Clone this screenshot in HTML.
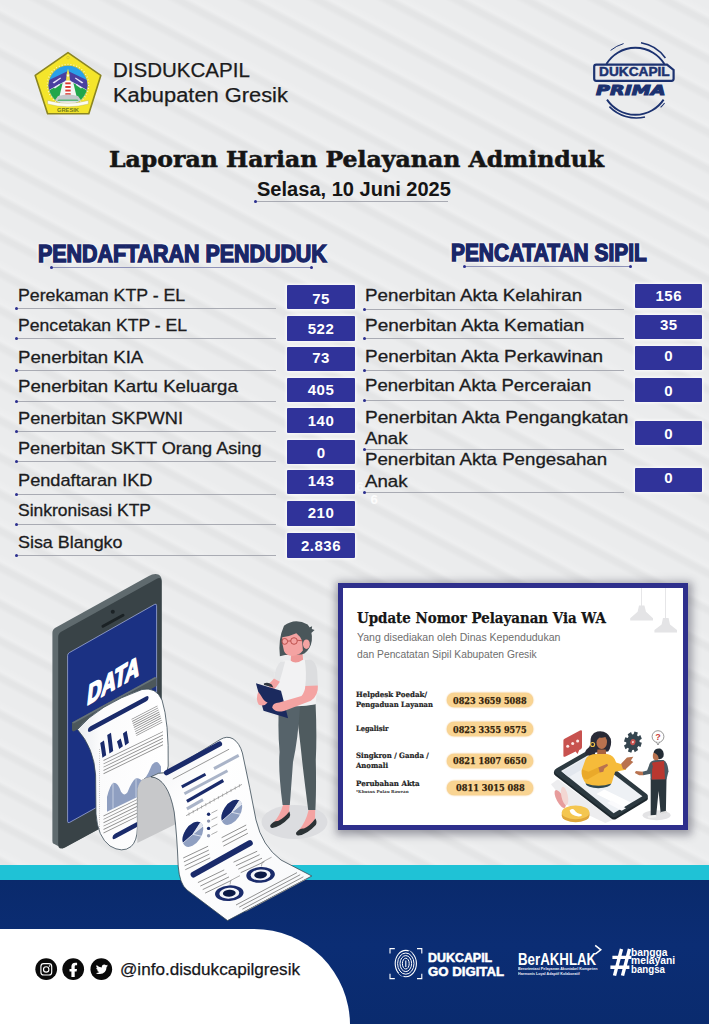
<!DOCTYPE html>
<html lang="id">
<head>
<meta charset="utf-8">
<title>Laporan Harian Pelayanan Adminduk</title>
<style>
html,body{margin:0;padding:0;}
body{width:709px;height:1024px;overflow:hidden;position:relative;background:#ebeced;font-family:"Liberation Sans",sans-serif;}
#bg{position:absolute;left:0;top:0;width:709px;height:1024px;
 background:repeating-linear-gradient(27.8deg,rgba(0,0,0,0) 0px,rgba(0,0,0,0) 8px,rgba(0,0,0,.032) 12.5px,rgba(0,0,0,.032) 15.5px,rgba(255,255,255,.16) 20px,rgba(255,255,255,0) 27px,rgba(0,0,0,0) 32.5px);}
.t{position:absolute;white-space:nowrap;line-height:1;transform-origin:0 0;}
.ul{position:absolute;height:1px;background:#a9abb3;}
.dot{position:absolute;width:3px;height:3px;border-radius:50%;background:#2b2f8f;}
.vb{position:absolute;width:67.5px;height:24.4px;background:#30339a;box-shadow:0 0 3px 1px rgba(255,255,255,.85);border-radius:1px;}
svg{position:absolute;left:0;top:0;}
</style>
</head>
<body>
<div id="bg"></div>
<!-- title underline -->
<div class="ul" style="left:255px;top:201.2px;width:193px"></div><div class="dot" style="left:253.5px;top:200.2px"></div>
<!-- section underlines -->
<div class="ul" style="left:51px;top:266.6px;width:260.5px;background:#8e92b8"></div><div class="dot" style="left:49.5px;top:265.5px"></div><div class="dot" style="left:310px;top:265.5px"></div>
<div class="ul" style="left:464px;top:266.3px;width:166.5px;background:#8e92b8"></div><div class="dot" style="left:462.5px;top:265.2px"></div><div class="dot" style="left:629px;top:265.2px"></div>
<!-- left rows -->
<div class="ul" style="left:17px;top:308.1px;width:259px"></div><div class="dot" style="left:15px;top:307.1px"></div>
<div class="ul" style="left:17px;top:338.2px;width:259px"></div><div class="dot" style="left:15px;top:337.2px"></div>
<div class="ul" style="left:17px;top:370.2px;width:259px"></div><div class="dot" style="left:15px;top:369.2px"></div>
<div class="ul" style="left:17px;top:400.5px;width:259px"></div><div class="dot" style="left:15px;top:399.5px"></div>
<div class="ul" style="left:17px;top:431.1px;width:259px"></div><div class="dot" style="left:15px;top:430.1px"></div>
<div class="ul" style="left:17px;top:461.1px;width:259px"></div><div class="dot" style="left:15px;top:460.1px"></div>
<div class="ul" style="left:17px;top:493.5px;width:259px"></div><div class="dot" style="left:15px;top:492.5px"></div>
<div class="ul" style="left:17px;top:523.5px;width:259px"></div><div class="dot" style="left:15px;top:522.5px"></div>
<div class="ul" style="left:17px;top:555.2px;width:259px"></div><div class="dot" style="left:15px;top:554.2px"></div>
<div class="vb" style="left:287px;top:285px"></div>
<div class="vb" style="left:287px;top:316.3px"></div>
<div class="vb" style="left:287px;top:347px"></div>
<div class="vb" style="left:287px;top:377.7px"></div>
<div class="vb" style="left:287px;top:408.4px"></div>
<div class="vb" style="left:287px;top:439.6px"></div>
<div class="vb" style="left:287px;top:470.1px"></div>
<div class="vb" style="left:287px;top:501.3px"></div>
<div class="vb" style="left:287px;top:533.4px"></div>
<!-- right rows -->
<div class="ul" style="left:365px;top:308.8px;width:259px"></div><div class="dot" style="left:362.7px;top:307.8px"></div>
<div class="ul" style="left:365px;top:338.0px;width:259px"></div><div class="dot" style="left:362.7px;top:337.0px"></div>
<div class="ul" style="left:365px;top:369.9px;width:259px"></div><div class="dot" style="left:362.7px;top:368.9px"></div>
<div class="ul" style="left:365px;top:400.4px;width:259px"></div><div class="dot" style="left:362.7px;top:399.4px"></div>
<div class="ul" style="left:365px;top:448.8px;width:259px"></div><div class="dot" style="left:362.7px;top:447.8px"></div>
<div class="ul" style="left:365px;top:491.5px;width:259px"></div><div class="dot" style="left:362.7px;top:490.5px"></div>
<div class="vb" style="left:634.7px;top:283.5px"></div>
<div class="vb" style="left:634.7px;top:314.9px"></div>
<div class="vb" style="left:634.7px;top:346px"></div>
<div class="vb" style="left:634.7px;top:378px"></div>
<div class="vb" style="left:634.7px;top:421.1px"></div>
<div class="vb" style="left:634.7px;top:467.7px"></div>
<!-- footer -->
<div style="position:absolute;left:0;top:865px;width:709px;height:15px;background:#1fc2d6"></div>
<div style="position:absolute;left:0;top:879.6px;width:709px;height:145px;background:linear-gradient(#0a2a6c,#0b2d74 45%,#0a2b6e)"></div>
<div style="position:absolute;left:0;top:928.8px;width:350px;height:96px;background:#fff;border-top-right-radius:96px 96px"></div>
<!-- card -->
<div style="position:absolute;left:338.3px;top:582.9px;width:339.6px;height:237.6px;border:5px solid #2e2f8c;background:#fff;box-shadow:1px 2px 8px 3px rgba(45,45,65,.42)"></div>
<div style="position:absolute;left:447.4px;top:693.1px;width:85.2px;height:14.1px;border-radius:8px;background:#f9d492;box-shadow:0 0 1.5px .5px #f3c781"></div>
<div style="position:absolute;left:447.4px;top:722.3px;width:85.2px;height:14.1px;border-radius:8px;background:#f9d492;box-shadow:0 0 1.5px .5px #f3c781"></div>
<div style="position:absolute;left:447.4px;top:754px;width:85.2px;height:14.0px;border-radius:8px;background:#f9d492;box-shadow:0 0 1.5px .5px #f3c781"></div>
<div style="position:absolute;left:447.4px;top:781.3px;width:85.2px;height:13.7px;border-radius:8px;background:#f9d492;box-shadow:0 0 1.5px .5px #f3c781"></div>

<svg width="709" height="1024" viewBox="0 0 709 1024">
<defs><clipPath id="emc"><circle cx="68" cy="85.2" r="19.4"/></clipPath></defs>
<!-- Gresik emblem -->
<g id="emblem">
<path d="M68 52.6 L100.8 75.4 L88.8 113.8 L47.6 113.8 L35.2 75.4 Z" fill="#f4e52b" stroke="#8b8522" stroke-width="1.6" stroke-linejoin="round"/>
<circle cx="68" cy="85" r="20.6" fill="#d9cf3a"/>
<circle cx="68" cy="85" r="20.6" fill="none" stroke="#fffbd0" stroke-width="1.3" stroke-dasharray=".9 2.1"/>
<g clip-path="url(#emc)">
<rect x="46" y="63" width="44" height="44" fill="#2aa0e8"/>
<path d="M68 71 L46 81.4 L46 92 L68 80 L90 92 L90 81.4 Z" fill="#4a40a0"/>
<path d="M68 79.4 L46 91.6 L46 106 L90 106 L90 91.6 Z" fill="#f2f4f3"/>
<path d="M62.6 83 L48 91 L50 100 L58.6 100 Z" fill="#21a64a"/>
<path d="M73.4 83 L88 91 L86 100 L77.4 100 Z" fill="#21a64a"/>
<path d="M52.6 82.4 L60.4 77.4 L61 78.6 L54 83.6 Z M83.4 82.4 L75.6 77.4 L75 78.6 L82 83.6 Z M53.6 87.6 L59.6 83.8 L60 85 L55 88.6 Z M82.4 87.6 L76.4 83.8 L76 85 L81 88.6 Z" fill="#e9e6fa"/>
<rect x="65.3" y="80.6" width="5.4" height="15" fill="#fff"/>
<rect x="65.3" y="82.4" width="5.4" height="1.9" fill="#d9372e"/><rect x="65.3" y="86" width="5.4" height="1.9" fill="#d9372e"/><rect x="65.3" y="89.6" width="5.4" height="1.9" fill="#d9372e"/><rect x="65.3" y="93.2" width="5.4" height="1.6" fill="#d9372e"/>
<path d="M66 80.6 L66.8 73 L68 68.4 L69.2 73 L70 80.6 Z" fill="#efe24a"/>
<path d="M66.6 74.6 L69.4 74.6 L69 76.4 L67 76.4 Z" fill="#fffbd8"/>
<path d="M54 101.5 L58 96 Q68 93 78 96 L82 101.5 Z" fill="#c3c8cb"/>
<path d="M58.5 99.4 L77.5 99.4 L78.6 101 L57.4 101 Z" fill="#5db77a"/>
</g>
<path d="M47.6 100.4 Q68 106 88.4 100.4 L88.4 104 Q68 109.6 47.6 104 Z" fill="#fbfbf2" stroke="#b7b060" stroke-width=".4"/>
<circle cx="68" cy="57.6" r="1.3" fill="none" stroke="#c7bd35" stroke-width=".6"/>
</g>
<!-- Dukcapil Prima -->
<g id="prima" fill="none" stroke="#1c3270">
<path d="M606.4 64 A34 34 0 0 1 664.4 64" stroke-width="1.9"/>
<path d="M607 99.6 A34 34 0 0 0 663.6 99.6" stroke-width="1.9"/>
<path d="M610.6 50.4 A37.6 37.6 0 0 1 623.6 43.6" stroke-width="1"/>
<path d="M641 42.8 A37.8 37.8 0 0 1 665.4 58" stroke-width="1.5"/>
<path d="M609.4 106.6 A37.4 37.4 0 0 0 645 117" stroke-width="1.6"/>
<path d="M660.6 107.4 A37.4 37.4 0 0 0 664.6 103" stroke-width="1.1"/>
<path d="M594.2 66.6 Q594.2 64.6 596.2 64.6 L667 64.6 L673.6 70 L673.6 78.8 Q673.6 80.8 671.6 80.8 L596.2 80.8 Q594.2 80.8 594.2 78.8 Z" stroke-width="2.2" fill="#e9eaec"/>
</g>
</svg>

<svg width="709" height="1024" viewBox="0 0 709 1024">
<defs>
<linearGradient id="pg1" x1="0" y1="0" x2="1" y2="0"><stop offset="0" stop-color="#e9ebef"/><stop offset=".25" stop-color="#fbfbfc"/><stop offset="1" stop-color="#ffffff"/></linearGradient>
<linearGradient id="pg2" x1="0" y1="0" x2="1" y2="1"><stop offset="0" stop-color="#f1f2f5"/><stop offset=".3" stop-color="#ffffff"/><stop offset="1" stop-color="#f7f8fa"/></linearGradient>
</defs>
<!-- ===== phone ===== -->
<g id="phone">
<path d="M52.4 633 Q52.4 629.5 55.4 627.8 L148.4 576.2 Q154.6 572.8 158.8 574.8 Q161.6 576.4 161.6 580.4 L161.6 795 L62.6 848.6 L53.4 843.6 Q52.4 843 52.4 841 Z" fill="#5f6a6e"/>
<path d="M58.2 637 Q58.2 633.5 61.2 631.8 L156.4 579 Q161.6 576.4 161.6 581.5 L161.6 795 L65 847.4 Q58.2 850.8 58.2 844 Z" fill="#394347"/>
<path d="M67.6 655.6 Q67.6 653.6 69.4 652.6 L154.6 604.4 Q156.6 603.4 156.6 605.6 L156.6 774 L69.6 822.4 Q67.6 823.4 67.6 821.4 Z" fill="#1b3183" stroke="#aeb9e6" stroke-width=".7"/>
<circle cx="112.8" cy="611.8" r="2" fill="#1b2225"/>
<path d="M103 626.3 L123 615.3" stroke="#1b2225" stroke-width="3" stroke-linecap="round"/>
<text transform="matrix(0.68,-0.398,-0.11,1,86.6,705.4)" font-family="Liberation Sans, sans-serif" font-weight="700" font-size="29" fill="#fff" stroke="#fff" stroke-width="2" stroke-linejoin="round">DATA</text>
<!-- slot -->
<path d="M72 722.5 L155 677 L156.6 678 L156.6 686 L73.6 731.6 L72 730.6 Z" fill="#4c575b"/>
<path d="M72 722.5 L155 677 L156.6 678 L73.6 723.6 Z" fill="#66727a"/>
</g>
<!-- ===== paper ===== -->
<g id="paper">
<!-- segment 1 -->
<path d="M77.5 729.5 Q98 705 142 689.5 Q156 686.5 162 700 Q169 722 168.2 766 L166.6 773 Q158 772 151 776.5 Q138.5 778 137.4 792 L137.4 828 Q137.2 841 131 846.6 Q122.4 853.4 110 846 Q97.6 837 96 814 L95.6 775 Q94 748 77.5 729.5 Z" fill="url(#pg1)" stroke="#3a4a55" stroke-width=".8"/>
<!--P1-->
<defs><clipPath id="c1"><path d="M77.5 729.5 Q98 705 142 689.5 Q156 686.5 162 700 Q169 722 168.2 766 L166.6 773 Q158 772 151 776.5 Q138.5 778 137.4 792 L137.4 828 Q137.2 841 131 846.6 Q122.4 853.4 110 846 Q97.6 837 96 814 L95.6 775 Q94 748 77.5 729.5 Z"/></clipPath></defs>
<g clip-path="url(#c1)"><g transform="matrix(1,-0.53,0,1,77,731)">
<path d="M13.5 5 L69 4.6" stroke="#1a2b6b" stroke-width="5.2" stroke-linecap="round"/>
<path d="M54.5 17.3 L80.5 17.5" stroke="#8c8c8c" stroke-width=".9"/>
<path d="M55.1 19.7 L81.1 19.9" stroke="#8c8c8c" stroke-width=".9"/>
<path d="M55.7 22.0 L81.7 22.2" stroke="#8c8c8c" stroke-width=".9"/>
<path d="M56.3 24.4 L82.3 24.6" stroke="#8c8c8c" stroke-width=".9"/>
<path d="M56.9 26.7 L82.9 26.9" stroke="#8c8c8c" stroke-width=".9"/>
<path d="M57.5 29.1 L83.5 29.2" stroke="#8c8c8c" stroke-width=".9"/>
<path d="M58.1 31.4 L84.1 31.6" stroke="#8c8c8c" stroke-width=".9"/>
<path d="M58.7 33.8 L84.7 34.0" stroke="#8c8c8c" stroke-width=".9"/>
<path d="M59.3 36.1 L85.3 36.3" stroke="#8c8c8c" stroke-width=".9"/>
<path d="M27.3 40 Q26.3 32.0 25.1 24.1" stroke="#1a2b6b" stroke-width="3.8" fill="none"/>
<path d="M34.3 39.4 Q33.3 29.6 32.099999999999994 19.9" stroke="#1a2b6b" stroke-width="3.8" fill="none"/>
<path d="M44 40 Q43 35.6 41.8 31.2" stroke="#1a2b6b" stroke-width="3.8" fill="none"/>
<path d="M50 39.6 Q49 33.0 47.8 26.5" stroke="#1a2b6b" stroke-width="3.8" fill="none"/>
<path d="M26.5 43.6 L86 46.2" stroke="#8c8c8c" stroke-width=".9"/>
<path d="M26.5 46.9 L86 49.5" stroke="#8c8c8c" stroke-width=".9"/>
<path d="M26.5 50.2 L86 52.8" stroke="#8c8c8c" stroke-width=".9"/>
<path d="M26.5 53.5 L86 56.1" stroke="#8c8c8c" stroke-width=".9"/>
<path d="M26.5 56.8 L86 59.4" stroke="#8c8c8c" stroke-width=".9"/>
<path d="M30 96.6 L30 82 Q33 71 36.5 71 Q41 73 44 84 Q47.5 91 50.5 88 Q55 79 59 78.6 Q63 80 66 86 Q72 80 75 73.5 Q79 71 82 76 L84 80 L84 99 Z" fill="#8f9fc1"/>
<path d="M36 71.2 L36 96.8 M59 78.6 L59 97.6" stroke="#dfe4ef" stroke-width=".6"/>
<path d="M26.5 99.0 L62 100.5" stroke="#8c8c8c" stroke-width=".9"/>
<path d="M26.5 102.4 L62 103.9" stroke="#8c8c8c" stroke-width=".9"/>
<path d="M26.5 105.8 L62 107.3" stroke="#8c8c8c" stroke-width=".9"/>
<path d="M26.5 109.2 L62 110.7" stroke="#8c8c8c" stroke-width=".9"/>
<path d="M26.5 112.6 L62 114.1" stroke="#8c8c8c" stroke-width=".9"/>
<path d="M26.5 116.0 L62 117.5" stroke="#8c8c8c" stroke-width=".9"/>
<path d="M38 125.4 L59 125.2" stroke="#1a2b6b" stroke-width="5" stroke-linecap="round"/>
<path d="M22.5 30 L22.5 118" stroke="#7b7b7b" stroke-width=".6" stroke-dasharray=".6 1.6"/>
</g></g>
<!--/P1-->
<!-- back (gray inner) -->
<path d="M137.3 843 L137.3 792 Q138 777.5 151 777 Q168 778 174.2 812 L176 824 Z" fill="#c7c8ca"/>
<!-- segment 2 -->
<path d="M151 776.8 Q158 772 166.6 772.6 L220 739.6 Q227 735.4 233 738.8 Q239.6 743 242.4 753 Q250 788 256 820 Q262 846 281 860 L311.8 876 L227.5 920.6 L187 890 Q179.5 884 178.2 866 Q177 835 174.2 812 Q168 778.5 151 776.8 Z" fill="url(#pg2)" stroke="#3a4a55" stroke-width=".8"/>
<!--P2-->
<path d="M166.5 772.8 L219.5 744.0" stroke="#1a2b6b" stroke-width="5.2" stroke-linecap="round"/>
<path d="M172.8 779.1 L229.1 749.2" stroke="#8c8c8c" stroke-width="0.9" stroke-linecap="butt"/>
<path d="M184.4 793.7 L227.5 770.8" stroke="#aab4c8" stroke-width="3" stroke-linecap="butt"/>
<path d="M181.8 786.9 L205.5 774.2" stroke="#1a2b6b" stroke-width="3" stroke-linecap="butt"/>
<path d="M186.9 801.3 L223.3 780.5" stroke="#1a2b6b" stroke-width="3.2" stroke-linecap="butt"/>
<path d="M186.9 808.9 L203.0 799.6" stroke="#aab4c8" stroke-width="3" stroke-linecap="butt"/>
<path d="M214.0 768.6 L238.7 755.4" stroke="#aab4c8" stroke-width="3" stroke-linecap="butt"/>
<path d="M186.1 815.7 L241.9 784.4" stroke="#808080" stroke-width="0.7" stroke-linecap="butt"/>
<path d="M189.0 812.5 L189.0 815.7" stroke="#808080" stroke-width="0.5" stroke-linecap="butt"/>
<path d="M193.2 810.1 L193.2 813.3" stroke="#808080" stroke-width="0.5" stroke-linecap="butt"/>
<path d="M197.4 807.8 L197.4 811.0" stroke="#808080" stroke-width="0.5" stroke-linecap="butt"/>
<path d="M201.6 805.4 L201.6 808.6" stroke="#808080" stroke-width="0.5" stroke-linecap="butt"/>
<path d="M205.8 803.1 L205.8 806.3" stroke="#808080" stroke-width="0.5" stroke-linecap="butt"/>
<path d="M210.0 800.7 L210.0 803.9" stroke="#808080" stroke-width="0.5" stroke-linecap="butt"/>
<path d="M214.2 798.3 L214.2 801.5" stroke="#808080" stroke-width="0.5" stroke-linecap="butt"/>
<path d="M218.4 796.0 L218.4 799.2" stroke="#808080" stroke-width="0.5" stroke-linecap="butt"/>
<path d="M222.6 793.6 L222.6 796.8" stroke="#808080" stroke-width="0.5" stroke-linecap="butt"/>
<path d="M226.8 791.3 L226.8 794.5" stroke="#808080" stroke-width="0.5" stroke-linecap="butt"/>
<path d="M231.0 788.9 L231.0 792.1" stroke="#808080" stroke-width="0.5" stroke-linecap="butt"/>
<path d="M235.2 786.5 L235.2 789.7" stroke="#808080" stroke-width="0.5" stroke-linecap="butt"/>
<path d="M239.4 784.2 L239.4 787.4" stroke="#808080" stroke-width="0.5" stroke-linecap="butt"/>
<g transform="translate(192.9 834.3) rotate(33)"><ellipse rx="8.4" ry="14" fill="#8f9fc1"/><path d="M0 0 L0 -14 A8.4 14 0 0 0 -8.4 0 A8.4 14 0 0 0 -3.6 12.6 Z" fill="#1a2b6b"/><path d="M0 0 L4 -12.3 A8.4 14 0 0 0 0 -14 Z" fill="#dfe4ee"/><path d="M0 0 L0 -14 M0 0 L4 -12.3 M0 0 L8.2 -3 M0 0 L-3.6 12.6" stroke="#eef1f7" stroke-width=".7" fill="none"/></g>
<g transform="translate(231.8 812.3) rotate(33)"><ellipse rx="8.4" ry="14" fill="#8f9fc1"/><path d="M0 0 L0 -14 A8.4 14 0 0 0 -8.4 0 A8.4 14 0 0 0 -3.6 12.6 Z" fill="#1a2b6b"/><path d="M0 0 L4 -12.3 A8.4 14 0 0 0 0 -14 Z" fill="#dfe4ee"/><path d="M0 0 L0 -14 M0 0 L4 -12.3 M0 0 L8.2 -3 M0 0 L-3.6 12.6" stroke="#eef1f7" stroke-width=".7" fill="none"/></g>
<circle cx="208.6" cy="814.3" r="1.7" fill="#1a2b6b"/>
<path d="M211.4 813.1 L217.4 810.1" stroke="#8c8c8c" stroke-width="0.7" stroke-linecap="butt"/>
<circle cx="208.6" cy="821.1" r="1.7" fill="#8f98b3"/>
<path d="M211.4 819.9 L217.4 816.9" stroke="#8c8c8c" stroke-width="0.7" stroke-linecap="butt"/>
<circle cx="208.6" cy="828.4" r="1.7" fill="#1a2b6b"/>
<path d="M211.4 827.2 L217.4 824.2" stroke="#8c8c8c" stroke-width="0.7" stroke-linecap="butt"/>
<circle cx="208.6" cy="835.7" r="1.7" fill="#8f98b3"/>
<path d="M211.4 834.5 L217.4 831.5" stroke="#8c8c8c" stroke-width="0.7" stroke-linecap="butt"/>
<path d="M221.6 837.7 L246.2 825.0" stroke="#8c8c8c" stroke-width="0.95" stroke-linecap="butt"/>
<path d="M222.4 841.9 L247.0 829.1" stroke="#8c8c8c" stroke-width="0.95" stroke-linecap="butt"/>
<path d="M223.3 846.1 L247.9 833.2" stroke="#8c8c8c" stroke-width="0.95" stroke-linecap="butt"/>
<path d="M183.2 858.0 L208.1 846.2" stroke="#8c8c8c" stroke-width="0.95" stroke-linecap="butt"/>
<path d="M183.9 861.9 L208.8 850.1" stroke="#8c8c8c" stroke-width="0.95" stroke-linecap="butt"/>
<path d="M184.6 865.8 L209.5 854.0" stroke="#8c8c8c" stroke-width="0.95" stroke-linecap="butt"/>
<path d="M185.3 869.7 L210.2 857.9" stroke="#8c8c8c" stroke-width="0.95" stroke-linecap="butt"/>
<path d="M193.6 874.5 L249.8 843.2" stroke="#1a2b6b" stroke-width="6" stroke-linecap="round"/>
<path d="M233.5 862.2 L257.2 851.2" stroke="#8c8c8c" stroke-width="0.95" stroke-linecap="butt"/>
<path d="M235.9 865.7 L259.6 854.7" stroke="#8c8c8c" stroke-width="0.95" stroke-linecap="butt"/>
<path d="M238.3 869.2 L262.0 858.2" stroke="#8c8c8c" stroke-width="0.95" stroke-linecap="butt"/>
<path d="M240.7 872.7 L264.4 861.7" stroke="#8c8c8c" stroke-width="0.95" stroke-linecap="butt"/>
<g transform="translate(260.6 874.9) rotate(-4)"><ellipse rx="14.3" ry="7.8" fill="#1a2b6b"/><ellipse rx="10" ry="5.4" fill="#f4f6fa"/><ellipse rx="6.4" ry="3.5" fill="#0b1a45"/></g>
<g transform="translate(229.3 893.2) rotate(-4)"><ellipse rx="14.3" ry="7.8" fill="#1a2b6b"/><ellipse rx="10" ry="5.4" fill="#f4f6fa"/><ellipse rx="6.4" ry="3.5" fill="#0b1a45"/></g>
<path d="M261.4 866.5 L262.2 862.2 L271.6 857.2 M230 884.6 L230.8 880.4 L240 875.6" stroke="#8c8c8c" stroke-width=".7" fill="none"/>
<path d="M197.9 882.6 L224.2 869.9" stroke="#8c8c8c" stroke-width="0.95" stroke-linecap="butt"/>
<path d="M200.3 886.1 L226.6 873.4" stroke="#8c8c8c" stroke-width="0.95" stroke-linecap="butt"/>
<path d="M202.7 889.6 L229.0 876.9" stroke="#8c8c8c" stroke-width="0.95" stroke-linecap="butt"/>
<path d="M205.1 893.1 L231.4 880.4" stroke="#8c8c8c" stroke-width="0.95" stroke-linecap="butt"/>
<path d="M236.0 905.0 L297.0 872.6" stroke="#8c8c8c" stroke-width="0.95" stroke-linecap="butt"/>
<path d="M239.2 907.1 L300.2 874.7" stroke="#8c8c8c" stroke-width="0.95" stroke-linecap="butt"/>
<path d="M242.4 909.2 L303.4 876.8" stroke="#8c8c8c" stroke-width="0.95" stroke-linecap="butt"/>
<path d="M245.6 911.3 L306.6 878.9" stroke="#8c8c8c" stroke-width="0.95" stroke-linecap="butt"/>
<!--/P2-->
</g>
</svg>

<svg width="709" height="1024" viewBox="0 0 709 1024">
<g id="woman">
<ellipse cx="294.5" cy="822" rx="33" ry="17" fill="#dcdde0"/>
<!-- back leg (right, viewer) -->
<path d="M296 706 L315.6 704 Q317 735 315.8 760 Q316.4 790 315.4 810 L308.2 810 Q303 770 301 750 Z" fill="#4f5b5f"/>
<!-- front leg -->
<path d="M279 706 L300 706 Q298 740 293 762 Q291 790 289.8 805 L282.6 805 Q278 770 279.6 752 Q277.6 730 279 706 Z" fill="#56636a"/>
<!-- feet -->
<path d="M283 805 L289.6 805 L289 813 Q282 822 276 824 L273 823 Q280 816 283 805 Z" fill="#f4a3a2"/>
<path d="M308.6 810 L315.2 810 L315 819 Q308 829 301 832 L298.6 830.6 Q306 822 308.6 810 Z" fill="#f4a3a2"/>
<path d="M270.4 825 Q274 820.5 278 821 Q284 818 289.4 811.4 Q291 815 289.4 817.6 Q281 826.6 272.4 828 Q269.6 827.6 270.4 825 Z" fill="#2b3235"/>
<path d="M296.2 832.4 Q300 828 304 828.6 Q310 826 315.4 818.6 Q317.4 822 315.8 825 Q307 834.6 298.2 835.6 Q295.4 835 296.2 832.4 Z" fill="#2b3235"/>
<!-- upper body -->
<path d="M309.1 627.6 L312.1 626.2 L311.8 629.0 L314.6 630.1 L312.1 632.2 L310.3 633.4 Z" fill="#4a565a"/>
<path d="M291.2 653.9 L302.5 653.3 L303.3 662.1 Q296.8 666.2 290.4 664.4 Z" fill="#ee9897"/>
<path d="M280.7 661.5 Q285.1 659.8 290.4 660.6 Q295.7 665.0 302.9 659.8 L310.3 659.2 Q315.6 661.5 316.7 670.9 L317.3 686.1 L315.6 704.3 Q296.8 708.4 279.0 704.3 Q278.1 692.0 279.3 681.4 L274.0 678.5 Q275.2 666.2 280.7 661.5 Z" fill="#f2f2f3"/>
<path d="M304.8 659.8 L310.3 659.2 Q316.2 661.5 317.2 670.9 L317.9 685.5 Q310.9 688.2 305.3 686.1 Q306.8 673.2 304.8 659.8 Z" fill="#dcdddf"/>
<path d="M280.7 661.5 Q275.2 666.2 274.0 678.5 L279.5 681.7 Q282.8 670.9 285.1 661.5 Z" fill="#e2e3e5"/>
<path d="M274.0 678.5 L279.9 681.7 Q276.9 687.3 272.2 690.8 L267.6 684.9 Q271.7 681.4 274.0 678.5 Z" fill="#f4a3a2"/>
<path d="M255.9 683.2 L281.0 690.8 L288.1 718.3 L263.5 710.7 Z" fill="#1b2a5e"/>
<path d="M263.8 683.5 Q267.6 681.4 271.7 684.4 L273.4 687.5 L264.1 684.9 Z" fill="#2f3640"/>
<path d="M258.2 692.0 Q255.3 699.0 258.8 704.8 Q264.1 707.2 267.6 702.5 Q264.1 701.3 261.7 696.7 Q260.0 693.7 258.2 692.0 Z" fill="#f4a3a2"/>
<path d="M305.3 686.1 L317.9 685.5 Q318.5 695.5 310.9 700.7 L284.0 710.9 Q275.2 713.0 272.2 707.8 Q272.2 703.1 279.3 702.5 L301.5 696.1 Q305.0 692.0 305.3 686.1 Z" fill="#f4a3a2"/>
<path d="M279.9 656.3 Q277.9 639.3 284.0 625.8 Q295.1 617.3 307.6 624.6 Q312.6 629.9 311.8 640.7 Q310.7 648.6 304.4 653.6 L301.5 654.5 L285.1 655.1 Z" fill="#4a565a"/>
<path d="M282.2 637.2 Q289.8 636.3 296.3 633.2 Q300.4 636.3 302.1 640.7 L302.9 650.4 Q299.8 655.1 292.2 655.9 Q285.7 655.4 284.0 651.0 Q281.9 644.0 282.2 637.2 Z" fill="#f4a3a2"/>
<ellipse cx="306.4" cy="644.2" rx="3.4" ry="4.8" fill="#f4a3a2"/>
<circle cx="284.7" cy="641.4" r="2.9" fill="none" stroke="#b3423f" stroke-width=".85"/>
<circle cx="294.0" cy="641.0" r="3.3" fill="none" stroke="#b3423f" stroke-width=".85"/>
<path d="M287.6 641.1 L290.7 640.9 M297.3 640.2 L302.1 640.8" stroke="#b3423f" stroke-width=".8" fill="none"/>
</g>
</svg>

<svg width="709" height="1024" viewBox="0 0 709 1024">
<g id="cardillus">
<g fill="#e4e4e6" stroke="none"><rect x="641.2" y="588" width=".7" height="18" fill="#dcdcde"/><path d="M639 605.4 L644.4 605.4 L646 611.8 L653 618.2 L653 620.4 L630.2 620.4 L630.2 618.2 L637.6 611.8 Z"/><rect x="665.3" y="588" width=".7" height="30.5" fill="#dcdcde"/><path d="M663 618 L668.6 618 L670 624.6 L677 630 L677 632.6 L654.4 632.6 L654.4 630 L661.6 624.6 Z"/></g>
<polygon points="551.0,784.2 557.9,779.2 613.2,819.7 605.3,823.1 567.7,805.3" fill="#ededef"/>
<path d="M553.9 772.9 Q553.5 770.9 556.3 769.4 L586.5 752.2 Q588.9 751.0 591.0 752.2 L646.7 796.0 Q649.1 798.2 646.7 800.6 L616.1 819.1 Q613.8 820.3 611.6 818.7 L555.5 775.7 Q553.9 774.5 553.9 772.9 Z" fill="#1d272d"/>
<path d="M554.3 771.3 Q553.9 769.8 556.7 768.2 L586.9 751.0 Q589.3 749.8 591.4 751.0 L646.7 794.1 Q649.1 796.2 646.7 798.2 L616.1 816.8 Q613.8 817.9 611.6 816.4 L555.9 773.7 Q554.3 772.5 554.3 771.3 Z" fill="#2c3940"/>
<polygon points="561.0,770.9 588.5,755.0 642.4,796.2 613.6,813.2" fill="#eef1f5"/>
<polygon points="596.4,794.1 604.3,789.5 630.9,802.5 623.0,807.3" fill="#ffffff"/>
<polygon points="607.2,802.9 611.6,800.4 626.0,808.3 621.7,810.8" fill="#fbfbfd"/>
<polygon points="562.2,771.7 588.5,756.3 595.4,761.5 568.7,777.3" fill="#e2e7ee"/>
<g transform="translate(560.2 799.0) rotate(-28)"><ellipse rx="3.6" ry="10" fill="#e79c9c"/></g>
<g transform="translate(564.6 796.0) rotate(-12)"><ellipse rx="3.2" ry="9.4" fill="#f3d7d3"/></g>
<ellipse cx="575.6" cy="815.4" rx="13.8" ry="6.9" fill="#dfa63a"/><rect x="561.8" y="812.6" width="27.6" height="2.8" fill="#dfa63a"/>
<ellipse cx="575.6" cy="812.4" rx="13.8" ry="6.9" fill="#f4c650"/>
<path d="M569.6 810.4 Q572.6 807.8 574.6 810.2 Q576.6 813.8 581.6 814.2 Q582.6 816.4 578.6 816.4 Q570.6 815.2 569.6 810.4 Z" fill="#fff"/>
<path d="M563.4 741.3 Q563.0 739.7 564.6 738.8 L580.0 730.5 Q582.0 729.7 582.0 731.5 L582.0 747.3 Q582.0 748.4 580.8 749.2 L579.2 750.0 L577.6 754.0 L575.6 751.6 L565.0 756.7 Q563.6 757.1 563.4 755.9 Z" fill="#c8524f"/>
<circle cx="567.7" cy="746.3" r="1.5" fill="#fbe9e7"/>
<circle cx="572.7" cy="743.5" r="1.5" fill="#fbe9e7"/>
<circle cx="577.6" cy="740.9" r="1.5" fill="#fbe9e7"/>
<ellipse cx="598.4" cy="783.6" rx="12.6" ry="4.6" fill="#2f4852"/>
<path d="M590.5 743.7 Q589.5 733.8 597.4 731.5 Q607.2 729.9 610.8 738.8 Q612.2 745.7 608.2 751.6 L595.4 752.6 Q594.4 756.5 587.5 755.2 Q583.5 753.6 586.5 749.6 Q589.9 747.6 590.5 743.7 Z" fill="#292b37"/>
<polygon points="597.4,749.6 605.7,749.6 606.5,757.5 597.0,757.5" fill="#a9633f"/>
<path d="M585.5 759.5 Q587.5 754.0 597.4 754.0 L607.2 754.0 Q614.2 755.2 616.1 762.5 L624.0 765.0 L626.0 769.8 L615.1 771.7 L611.6 783.6 Q598.4 788.1 585.9 783.6 Q581.2 777.3 581.6 770.4 Z" fill="#f6bb3a"/>
<path d="M582.0 769.4 Q580.6 779.2 587.5 779.6 L600.9 771.7 L598.9 767.0 L588.5 771.7 Z" fill="#eaa92a"/>
<path d="M598.4 767.4 L607.2 763.8 L608.0 765.8 L604.3 768.4 L603.3 771.7 L599.7 772.5 Z" fill="#b8724f"/>
<path d="M621.1 763.8 L627.0 757.5 L633.3 756.7 L630.9 760.5 L633.3 761.9 L625.4 769.4 L623.0 769.0 Z" fill="#b8724f"/>
<ellipse cx="601.7" cy="742.1" rx="5.3" ry="7" fill="#b8724f"/>
<path d="M593.8 739.7 Q598.4 732.2 607.2 736.2 Q603.3 738.2 599.7 737.4 Q596.4 739.4 595.4 744.7 Z" fill="#292b37"/>
<circle cx="592.6" cy="744.5" r="2" fill="none" stroke="#f2c24b" stroke-width="1.1"/>
<g transform="translate(632.9 742.1) rotate(18) scale(.82 1)" fill="#35454f"><circle r="8"/><rect x="-2.2" y="-10.6" width="4.4" height="4" transform="rotate(0)"/><rect x="-2.2" y="-10.6" width="4.4" height="4" transform="rotate(45)"/><rect x="-2.2" y="-10.6" width="4.4" height="4" transform="rotate(90)"/><rect x="-2.2" y="-10.6" width="4.4" height="4" transform="rotate(135)"/><rect x="-2.2" y="-10.6" width="4.4" height="4" transform="rotate(180)"/><rect x="-2.2" y="-10.6" width="4.4" height="4" transform="rotate(225)"/><rect x="-2.2" y="-10.6" width="4.4" height="4" transform="rotate(270)"/><rect x="-2.2" y="-10.6" width="4.4" height="4" transform="rotate(315)"/><circle r="3.1" fill="#c8524f"/><circle r="1.1" fill="#f6dcd8"/></g>
<circle cx="658.0" cy="736.6" r="5.9" fill="#fff" stroke="#6b6b6b" stroke-width=".7"/><path d="M656.6 742.2 L658.0 745.0 L659.4 742.2" fill="#fff" stroke="#6b6b6b" stroke-width=".7"/>
<text x="658.0" y="739.7" text-anchor="middle" font-family="Liberation Sans, sans-serif" font-weight="700" font-size="9" fill="#c8403c">?</text>
<ellipse cx="656.6" cy="815.2" rx="14" ry="5" fill="#e3e3e5"/>
<path d="M650.7 778.3 L666.5 778.3 L665.9 811.8 L660.6 812.8 L658.6 791.1 L656.2 815.2 L650.7 815.6 Z" fill="#2b363d"/>
<polygon points="647.3,816.0 656.2,814.8 656.2,817.2 648.7,818.3" fill="#f0f0f0"/>
<polygon points="660.6,812.0 666.5,810.8 667.3,812.8 661.5,814.0" fill="#dcdcdc"/>
<path d="M649.7 763.8 Q650.7 760.3 655.6 759.9 L663.5 759.9 Q667.5 761.5 668.5 771.3 L666.5 779.2 L650.7 779.6 Z" fill="#4a5a63"/>
<path d="M652.3 762.5 L664.1 761.1 L664.9 779.2 L651.9 779.6 Z" fill="#b9372f"/>
<path d="M649.7 763.8 L653.1 765.8 L650.7 773.7 L643.2 775.3 L642.4 771.7 L647.1 770.4 Z" fill="#4a5a63"/>
<path d="M642.8 771.7 L635.9 770.9 L634.9 772.9 L639.2 775.3 L643.2 775.3 Z" fill="#b8724f"/>
<ellipse cx="656.2" cy="755.9" rx="3.4" ry="4.3" fill="#b8724f"/>
<path d="M653.6 752.6 Q654.6 748.0 660.2 748.6 Q664.5 750.6 663.5 756.5 Q662.1 759.5 658.6 759.1 Q659.0 754.6 653.6 752.6 Z" fill="#232c35"/>
</g></svg>

<svg width="709" height="1024" viewBox="0 0 709 1024">
<g id="social">
<circle cx="46.2" cy="969.2" r="10.85" fill="#0a0a0a"/>
<circle cx="73.2" cy="969.2" r="10.85" fill="#0a0a0a"/>
<circle cx="101.3" cy="969.2" r="10.85" fill="#0a0a0a"/>
<rect x="40.9" y="963.6" width="10.8" height="11.4" rx="2.8" fill="none" stroke="#fff" stroke-width="1.15"/>
<circle cx="46.2" cy="969.4" r="2.7" fill="none" stroke="#fff" stroke-width="1.15"/>
<circle cx="49.5" cy="966" r=".75" fill="#fff"/>
<path d="M71.4 977 L71.4 971.5 L69.5 971.5 L69.5 969 L71.4 969 L71.4 966.6 Q71.4 962.7 75.3 962.7 L77.1 962.8 L77.1 965.2 L75.9 965.2 Q74.7 965.2 74.7 966.6 L74.7 969 L77 969 L76.6 971.5 L74.7 971.5 L74.7 977 Z" fill="#fff"/>
<path d="M107.9 965.6 Q107.2 966 106.5 966.1 Q107.3 965.6 107.6 964.7 Q106.8 965.1 106 965.3 Q105.3 964.5 104.2 964.5 Q102.1 964.6 101.8 966.6 L101.8 967.4 Q98.6 967.2 96.6 964.9 Q95.6 966.7 97.3 968.1 Q96.7 968.1 96.2 967.8 Q96.2 969.6 98.2 970.2 Q97.6 970.4 97.1 970.2 Q97.6 971.7 99.4 971.9 Q97.9 973.1 95.8 972.9 Q97.6 974.1 99.8 974.1 Q106.3 973.7 106.6 967.1 Q107.4 966.5 107.9 965.6 Z" fill="#fff"/>
</g>
<g id="godigital" fill="none" stroke="#fff">
<path d="M390 953.4 L390 948.6 L394.8 948.6 M417 948.6 L421.8 948.6 L421.8 953.4 M421.8 973.8 L421.8 978.6 L417 978.6 M394.8 978.6 L390 978.6 L390 973.8" stroke-width="1.1"/>
<ellipse cx="405.8" cy="963.6" rx="10.6" ry="13.2" stroke-width="1.1"/>
<ellipse cx="405.8" cy="963.6" rx="8.2" ry="10.6" stroke-width="1"/>
<ellipse cx="405.8" cy="963.6" rx="5.8" ry="8" stroke-width="1"/>
<ellipse cx="405.8" cy="963.6" rx="3.4" ry="5.4" stroke-width="1"/>
<path d="M405.8 960.4 L405.8 967" stroke-width="1.1"/>
<path d="M399 972.8 L403.5 976.4" stroke="#0b2d73" stroke-width="1.6"/>
<path d="M412 954 L408.6 950.8" stroke="#0b2d73" stroke-width="1.4"/>
</g>
<path d="M595.2 945.4 L600.8 949.8 L595.2 954.2" fill="none" stroke="#fff" stroke-width="1.5"/>
<!-- hash -->
<g stroke="#fff" stroke-width="3.4" stroke-linecap="butt">
<path d="M621.5 949 L614.5 975.6 M629.5 949 L622.5 975.6 M612.4 957.4 L631.4 957.4 M610.4 967.2 L629.4 967.2"/>
</g>
</svg>

<div class="t" id="t0" style='left:112.70px;top:60.81px;font-size:19.6px;color:#1b1b1b;font-family:"Liberation Sans", sans-serif;transform:scaleX(1.0469);-webkit-text-stroke:.25px #1c1c1e;'>DISDUKCAPIL</div>
<div class="t" id="t1" style='left:112.70px;top:85.61px;font-size:19.6px;color:#1b1b1b;font-family:"Liberation Sans", sans-serif;transform:scaleX(1.1150);-webkit-text-stroke:.25px #1c1c1e;'>Kabupaten Gresik</div>
<div class="t" id="t2" style='left:109.40px;top:148.36px;font-size:22.6px;color:#151515;font-family:"DejaVu Serif", "Liberation Serif", serif;font-weight:700;transform:scaleX(1.0428);-webkit-text-stroke:.55px #151515;'>Laporan Harian Pelayanan Adminduk</div>
<div class="t" id="t3" style='left:257.40px;top:180.28px;font-size:19.4px;color:#151515;font-family:"Liberation Sans", sans-serif;font-weight:700;transform:scaleX(1.0337);'>Selasa, 10 Juni 2025</div>
<div class="t" id="t4" style='left:37.60px;top:242.69px;font-size:23.4px;color:#1a2768;font-family:"Liberation Sans", sans-serif;font-weight:700;transform:scaleX(0.9158);-webkit-text-stroke:1.45px #1a2768;text-shadow:0 0 2px #fff,0 0 2px #fff,0 0 3px #fff,0 0 4px #fff,0 0 5px #fff;'>PENDAFTARAN PENDUDUK</div>
<div class="t" id="t5" style='left:451.00px;top:242.49px;font-size:23.4px;color:#1a2768;font-family:"Liberation Sans", sans-serif;font-weight:700;transform:scaleX(0.8929);-webkit-text-stroke:1.45px #1a2768;text-shadow:0 0 2px #fff,0 0 2px #fff,0 0 3px #fff,0 0 4px #fff,0 0 5px #fff;'>PENCATATAN SIPIL</div>
<div class="t" id="t6" style='left:17.80px;top:287.41px;font-size:17px;color:#1c1c1e;font-family:"Liberation Sans", sans-serif;transform:scaleX(1.0429);-webkit-text-stroke:.3px #1c1c1e;'>Perekaman KTP - EL</div>
<div class="t" id="t7" style='left:17.80px;top:317.21px;font-size:17px;color:#1c1c1e;font-family:"Liberation Sans", sans-serif;transform:scaleX(1.0357);-webkit-text-stroke:.3px #1c1c1e;'>Pencetakan KTP - EL</div>
<div class="t" id="t8" style='left:17.80px;top:349.21px;font-size:17px;color:#1c1c1e;font-family:"Liberation Sans", sans-serif;transform:scaleX(1.0957);-webkit-text-stroke:.3px #1c1c1e;'>Penerbitan KIA</div>
<div class="t" id="t9" style='left:17.80px;top:378.11px;font-size:17px;color:#1c1c1e;font-family:"Liberation Sans", sans-serif;transform:scaleX(1.0970);-webkit-text-stroke:.3px #1c1c1e;'>Penerbitan Kartu Keluarga</div>
<div class="t" id="t10" style='left:17.80px;top:410.11px;font-size:17px;color:#1c1c1e;font-family:"Liberation Sans", sans-serif;transform:scaleX(1.0713);-webkit-text-stroke:.3px #1c1c1e;'>Penerbitan SKPWNI</div>
<div class="t" id="t11" style='left:17.80px;top:439.91px;font-size:17px;color:#1c1c1e;font-family:"Liberation Sans", sans-serif;transform:scaleX(1.0662);-webkit-text-stroke:.3px #1c1c1e;'>Penerbitan SKTT Orang Asing</div>
<div class="t" id="t12" style='left:17.80px;top:471.91px;font-size:17px;color:#1c1c1e;font-family:"Liberation Sans", sans-serif;transform:scaleX(1.0700);-webkit-text-stroke:.3px #1c1c1e;'>Pendaftaran IKD</div>
<div class="t" id="t13" style='left:17.80px;top:502.21px;font-size:17px;color:#1c1c1e;font-family:"Liberation Sans", sans-serif;transform:scaleX(1.0275);-webkit-text-stroke:.3px #1c1c1e;'>Sinkronisasi KTP</div>
<div class="t" id="t14" style='left:17.80px;top:534.21px;font-size:17px;color:#1c1c1e;font-family:"Liberation Sans", sans-serif;transform:scaleX(1.0531);-webkit-text-stroke:.3px #1c1c1e;'>Sisa Blangko</div>
<div class="t" id="t15" style='left:365.00px;top:287.01px;font-size:17px;color:#1c1c1e;font-family:"Liberation Sans", sans-serif;transform:scaleX(1.1048);-webkit-text-stroke:.3px #1c1c1e;'>Penerbitan Akta Kelahiran</div>
<div class="t" id="t16" style='left:365.00px;top:316.51px;font-size:17px;color:#1c1c1e;font-family:"Liberation Sans", sans-serif;transform:scaleX(1.1151);-webkit-text-stroke:.3px #1c1c1e;'>Penerbitan Akta Kematian</div>
<div class="t" id="t17" style='left:365.00px;top:348.11px;font-size:17px;color:#1c1c1e;font-family:"Liberation Sans", sans-serif;transform:scaleX(1.1147);-webkit-text-stroke:.3px #1c1c1e;'>Penerbitan Akta Perkawinan</div>
<div class="t" id="t18" style='left:365.00px;top:377.41px;font-size:17px;color:#1c1c1e;font-family:"Liberation Sans", sans-serif;transform:scaleX(1.0934);-webkit-text-stroke:.3px #1c1c1e;'>Penerbitan Akta Perceraian</div>
<div class="t" id="t19" style='left:365.00px;top:409.31px;font-size:17px;color:#1c1c1e;font-family:"Liberation Sans", sans-serif;transform:scaleX(1.1237);-webkit-text-stroke:.3px #1c1c1e;'>Penerbitan Akta Pengangkatan</div>
<div class="t" id="t20" style='left:365.00px;top:430.41px;font-size:17px;color:#1c1c1e;font-family:"Liberation Sans", sans-serif;transform:scaleX(1.0994);-webkit-text-stroke:.3px #1c1c1e;'>Anak</div>
<div class="t" id="t21" style='left:365.00px;top:451.21px;font-size:17px;color:#1c1c1e;font-family:"Liberation Sans", sans-serif;transform:scaleX(1.0993);-webkit-text-stroke:.3px #1c1c1e;'>Penerbitan Akta Pengesahan</div>
<div class="t" id="t22" style='left:365.00px;top:472.81px;font-size:17px;color:#1c1c1e;font-family:"Liberation Sans", sans-serif;transform:scaleX(1.0994);-webkit-text-stroke:.3px #1c1c1e;'>Anak</div>
<div class="t" id="t23" style='left:287.30px;top:291.20px;font-size:15px;color:#fff;font-family:"Liberation Sans", sans-serif;font-weight:700;width:67.5px;text-align:center;letter-spacing:.5px;'>75</div>
<div class="t" id="t24" style='left:287.30px;top:320.80px;font-size:15px;color:#fff;font-family:"Liberation Sans", sans-serif;font-weight:700;width:67.5px;text-align:center;letter-spacing:.5px;'>522</div>
<div class="t" id="t25" style='left:287.30px;top:350.00px;font-size:15px;color:#fff;font-family:"Liberation Sans", sans-serif;font-weight:700;width:67.5px;text-align:center;letter-spacing:.5px;'>73</div>
<div class="t" id="t26" style='left:287.30px;top:381.60px;font-size:15px;color:#fff;font-family:"Liberation Sans", sans-serif;font-weight:700;width:67.5px;text-align:center;letter-spacing:.5px;'>405</div>
<div class="t" id="t27" style='left:287.30px;top:412.50px;font-size:15px;color:#fff;font-family:"Liberation Sans", sans-serif;font-weight:700;width:67.5px;text-align:center;letter-spacing:.5px;'>140</div>
<div class="t" id="t28" style='left:287.30px;top:445.10px;font-size:15px;color:#fff;font-family:"Liberation Sans", sans-serif;font-weight:700;width:67.5px;text-align:center;letter-spacing:.5px;'>0</div>
<div class="t" id="t29" style='left:287.30px;top:473.00px;font-size:15px;color:#fff;font-family:"Liberation Sans", sans-serif;font-weight:700;width:67.5px;text-align:center;letter-spacing:.5px;'>143</div>
<div class="t" id="t30" style='left:287.30px;top:504.60px;font-size:15px;color:#fff;font-family:"Liberation Sans", sans-serif;font-weight:700;width:67.5px;text-align:center;letter-spacing:.5px;'>210</div>
<div class="t" id="t31" style='left:287.30px;top:537.50px;font-size:15px;color:#fff;font-family:"Liberation Sans", sans-serif;font-weight:700;width:67.5px;text-align:center;letter-spacing:.5px;'>2.836</div>
<div class="t" id="t32" style='left:635.00px;top:288.40px;font-size:15px;color:#fff;font-family:"Liberation Sans", sans-serif;font-weight:700;width:67.5px;text-align:center;letter-spacing:.5px;'>156</div>
<div class="t" id="t33" style='left:635.00px;top:317.00px;font-size:15px;color:#fff;font-family:"Liberation Sans", sans-serif;font-weight:700;width:67.5px;text-align:center;letter-spacing:.5px;'>35</div>
<div class="t" id="t34" style='left:635.00px;top:347.60px;font-size:15px;color:#fff;font-family:"Liberation Sans", sans-serif;font-weight:700;width:67.5px;text-align:center;letter-spacing:.5px;'>0</div>
<div class="t" id="t35" style='left:635.00px;top:382.60px;font-size:15px;color:#fff;font-family:"Liberation Sans", sans-serif;font-weight:700;width:67.5px;text-align:center;letter-spacing:.5px;'>0</div>
<div class="t" id="t36" style='left:635.00px;top:425.90px;font-size:15px;color:#fff;font-family:"Liberation Sans", sans-serif;font-weight:700;width:67.5px;text-align:center;letter-spacing:.5px;'>0</div>
<div class="t" id="t37" style='left:635.00px;top:469.60px;font-size:15px;color:#fff;font-family:"Liberation Sans", sans-serif;font-weight:700;width:67.5px;text-align:center;letter-spacing:.5px;'>0</div>
<div class="t" id="t38" style='left:356.80px;top:611.12px;font-size:14.5px;color:#151515;font-family:"DejaVu Serif", "Liberation Serif", serif;font-weight:700;transform:scaleX(0.9237);-webkit-text-stroke:.25px #151515;'>Update Nomor Pelayanan Via WA</div>
<div class="t" id="t39" style='left:356.80px;top:633.43px;font-size:10px;color:#6e6e6e;font-family:"Liberation Sans", sans-serif;transform:scaleX(1.0523);'>Yang disediakan oleh Dinas Kependudukan</div>
<div class="t" id="t40" style='left:356.80px;top:650.03px;font-size:10px;color:#6e6e6e;font-family:"Liberation Sans", sans-serif;transform:scaleX(1.0294);'>dan Pencatatan Sipil Kabupaten Gresik</div>
<div class="t" id="t41" style='left:356.30px;top:691.02px;font-size:7.3px;color:#1d1d1d;font-family:"DejaVu Serif", "Liberation Serif", serif;font-weight:700;transform:scaleX(0.9697);-webkit-text-stroke:.2px #1d1d1d;'>Helpdesk Poedak/</div>
<div class="t" id="t42" style='left:356.30px;top:701.12px;font-size:7.3px;color:#1d1d1d;font-family:"DejaVu Serif", "Liberation Serif", serif;font-weight:700;transform:scaleX(0.9365);-webkit-text-stroke:.2px #1d1d1d;'>Pengaduan Layanan</div>
<div class="t" id="t43" style='left:356.30px;top:724.82px;font-size:7.3px;color:#1d1d1d;font-family:"DejaVu Serif", "Liberation Serif", serif;font-weight:700;transform:scaleX(0.9087);-webkit-text-stroke:.2px #1d1d1d;'>Legalisir</div>
<div class="t" id="t44" style='left:356.30px;top:752.32px;font-size:7.3px;color:#1d1d1d;font-family:"DejaVu Serif", "Liberation Serif", serif;font-weight:700;transform:scaleX(0.9520);-webkit-text-stroke:.2px #1d1d1d;'>Singkron / Ganda /</div>
<div class="t" id="t45" style='left:356.30px;top:761.82px;font-size:7.3px;color:#1d1d1d;font-family:"DejaVu Serif", "Liberation Serif", serif;font-weight:700;transform:scaleX(0.9460);-webkit-text-stroke:.2px #1d1d1d;'>Anomali</div>
<div class="t" id="t46" style='left:356.30px;top:780.42px;font-size:7.3px;color:#1d1d1d;font-family:"DejaVu Serif", "Liberation Serif", serif;font-weight:700;transform:scaleX(0.9709);-webkit-text-stroke:.2px #1d1d1d;'>Perubahan Akta</div>
<div class="t" id="t47" style='left:356.30px;top:789.81px;font-size:4px;color:#333;font-family:"DejaVu Serif", "Liberation Serif", serif;font-weight:700;transform:scaleX(1.0138);'>*Khusus Pulau Bawean</div>
<div class="t" id="t48" style='left:453.00px;top:695.63px;font-size:9.3px;color:#33230c;font-family:"DejaVu Serif", "Liberation Serif", serif;font-weight:700;transform:scaleX(0.8751);-webkit-text-stroke:.25px #33230c;'>0823 3659 5088</div>
<div class="t" id="t49" style='left:453.00px;top:724.83px;font-size:9.3px;color:#33230c;font-family:"DejaVu Serif", "Liberation Serif", serif;font-weight:700;transform:scaleX(0.8751);-webkit-text-stroke:.25px #33230c;'>0823 3355 9575</div>
<div class="t" id="t50" style='left:453.00px;top:756.23px;font-size:9.3px;color:#33230c;font-family:"DejaVu Serif", "Liberation Serif", serif;font-weight:700;transform:scaleX(0.8751);-webkit-text-stroke:.25px #33230c;'>0821 1807 6650</div>
<div class="t" id="t51" style='left:455.90px;top:783.23px;font-size:9.3px;color:#33230c;font-family:"DejaVu Serif", "Liberation Serif", serif;font-weight:700;transform:scaleX(0.8848);-webkit-text-stroke:.25px #33230c;'>0811 3015 088</div>
<div class="t" id="t52" style='left:119.90px;top:960.93px;font-size:16.5px;color:#16161a;font-family:"Liberation Sans", sans-serif;transform:scaleX(1.0369);-webkit-text-stroke:.25px #16161a;'>@info.disdukcapilgresik</div>
<div class="t" id="t53" style='left:57.00px;top:108.07px;font-size:5px;color:#6f7a1c;font-family:"Liberation Sans", sans-serif;font-weight:700;transform:scaleX(1.1475);'>GRESIK</div>
<div class="t" id="t54" style='left:598.60px;top:67.43px;font-size:11.9px;color:#1c3270;font-family:"Liberation Sans", sans-serif;font-weight:700;transform:scaleX(1.1508);-webkit-text-stroke:.45px #1c3270;'>DUKCAPIL</div>
<div class="t" id="t55" style='left:596.30px;top:82.77px;font-size:14.8px;color:#1c3270;font-family:"DejaVu Sans", "Liberation Sans", sans-serif;font-weight:700;font-style:italic;transform:scaleX(1.2889);-webkit-text-stroke:1.1px #1c3270;'>PRIMA</div>
<div class="t" id="t56" style='left:428.40px;top:952.27px;font-size:12.2px;color:#fff;font-family:"Liberation Sans", sans-serif;font-weight:700;transform:scaleX(1.0196);-webkit-text-stroke:.5px #fff;'>DUKCAPIL</div>
<div class="t" id="t57" style='left:428.40px;top:966.17px;font-size:12.2px;color:#fff;font-family:"Liberation Sans", sans-serif;font-weight:700;transform:scaleX(1.0828);-webkit-text-stroke:.5px #fff;'>GO DIGITAL</div>
<div class="t" id="t58" style='left:518.10px;top:952.13px;font-size:15.8px;color:#fff;font-family:"Liberation Sans", sans-serif;font-weight:700;transform:scaleX(0.8406);'>BerAKHLAK</div>
<div class="t" id="t59" style='left:518.10px;top:967.55px;font-size:3.6px;color:#e8ecf6;font-family:"Liberation Sans", sans-serif;font-weight:700;transform:scaleX(1.0384);'>Berorientasi Pelayanan Akuntabel Kompeten</div>
<div class="t" id="t60" style='left:518.10px;top:972.55px;font-size:3.6px;color:#e8ecf6;font-family:"Liberation Sans", sans-serif;font-weight:700;transform:scaleX(1.0254);'>Harmonis Loyal Adaptif Kolaboratif</div>
<div class="t" id="t61" style='left:631.40px;top:946.83px;font-size:10.6px;color:#fff;font-family:"Liberation Sans", sans-serif;font-weight:700;transform:scaleX(0.9689);'>bangga</div>
<div class="t" id="t62" style='left:631.40px;top:955.43px;font-size:10.6px;color:#fff;font-family:"Liberation Sans", sans-serif;font-weight:700;transform:scaleX(0.9722);'>melayani</div>
<div class="t" id="t63" style='left:631.40px;top:964.13px;font-size:10.6px;color:#fff;font-family:"Liberation Sans", sans-serif;font-weight:700;transform:scaleX(0.9166);'>bangsa</div>
<div class="t" id="t64" style='left:356.20px;top:479.63px;font-size:13.2px;color:rgba(255,255,255,.6);font-family:"Liberation Sans", sans-serif;font-weight:700;'>6</div>
<div class="t" id="t65" style='left:370.60px;top:492.83px;font-size:13.2px;color:rgba(255,255,255,.85);font-family:"Liberation Sans", sans-serif;font-weight:700;'>6</div>
</body>
</html>
